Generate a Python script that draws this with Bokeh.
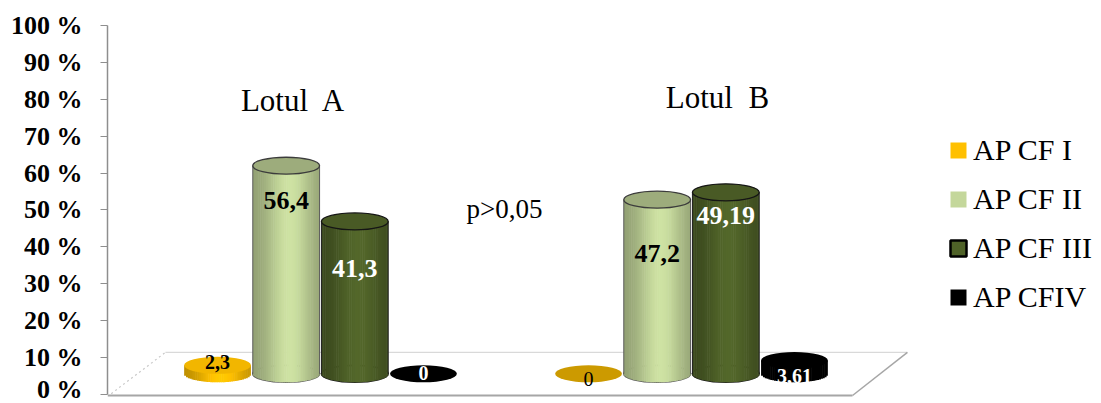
import math

from bokeh.core.properties import value
from bokeh.embed import file_html
from bokeh.models import (ColumnDataSource, FixedTicker, Label, Legend,
                          LegendItem, PrintfTickFormatter, Range1d)
from bokeh.plotting import figure
from bokeh.resources import INLINE

# ---- data -------------------------------------------------------------
groups = ["Lotul\u00a0 A", "Lotul\u00a0 B"]
series = ["AP CF I", "AP CF II", "AP CF III", "AP CFIV"]
lotul_a = [2.3, 56.4, 41.3, 0.0]
lotul_b = [0.0, 47.2, 49.19, 3.61]
y_ticks = [0, 10, 20, 30, 40, 50, 60, 70, 80, 90, 100]
note_text = "p>0,05"

values_by_group = [lotul_a, lotul_b]

# ---- styling / layout -------------------------------------------------
series_colors = ["#FFC000", "#C4D79B", "#4F6228", "#000000"]
top_factor = [0.95, 0.80, 0.92, 1.0]       # shade of the cylinder lids
lid_outline = [None, "#3c3c3c", "#151515", None]
body_outline = [None, "#5a5a5a", "#1e1e1e", None]
label_color = ["#000000", "#000000", "#ffffff", "#ffffff"]
draw_order = [3, 0, 1, 2]

FONT = "Liberation Serif"
BASE = 5.6          # depth lift of the cylinder bases above the floor front
LID_H = 4.6         # lid ellipse height (value units)
STEP = 0.185        # spacing of the cylinders inside a group (group units)
CYL_W = 0.18        # cylinder diameter (group units)
N_STRIPS = 36

offsets = [(i - 1.5) * STEP for i in range(len(series))]

# label centres in value units, per group / series
label_y = [[8.7, 52.6, 34.1, 5.7],
           [4.3, 38.2, 48.5, 5.1]]
title_dx = [-0.073, 0.070]
title_y = [79.7, 80.5]

# floor polygon (group units / value units)
floor_front_y, floor_back_y = -0.27, 11.4
floor_x_front = (-0.574, 1.434)
floor_x_back = (-0.418, 1.582)


def shade(hex_color, f):
    r, g, b = (int(hex_color[k:k + 2], 16) for k in (1, 3, 5))
    return "#%02x%02x%02x" % tuple(max(0, min(255, int(round(c * f)))) for c in (r, g, b))


def body_light(t):
    # horizontal lighting across the cylinder face, t in [0, 1]
    return 0.72 + 0.33 * math.exp(-((t - 0.55) / 0.35) ** 2)


p = figure(width=1101, height=403,
           x_range=Range1d(-0.5741, 2.1051), y_range=Range1d(-1.626, 104.065),
           output_backend="svg", toolbar_location=None, x_axis_location=None,
           min_border_left=107, min_border_right=0, min_border_top=10,
           min_border_bottom=3)
p.outline_line_color = None
p.grid.visible = False
p.background_fill_color = "white"

# ---- y axis ------------------------------------------------------------
ax = p.yaxis[0]
ax.ticker = FixedTicker(ticks=y_ticks)
ax.formatter = PrintfTickFormatter(format="%d %%")
ax.bounds = (0, 100)
ax.axis_line_color = "#8e8e8e"
ax.axis_line_width = 1.5
ax.major_tick_line_color = "#8e8e8e"
ax.major_tick_out = 7
ax.major_tick_in = 0
ax.minor_tick_line_color = None
ax.major_label_standoff = 18
ax.major_label_text_font = FONT
ax.major_label_text_font_style = "bold"
ax.major_label_text_font_size = "26px"
ax.major_label_text_color = "#000000"

# ---- floor -------------------------------------------------------------
p.patch(x=[floor_x_front[0], floor_x_front[1], floor_x_back[1], floor_x_back[0]],
        y=[floor_front_y, floor_front_y, floor_back_y, floor_back_y],
        fill_color="white", line_color=None)
p.segment(x0=[floor_x_back[0]], y0=[floor_back_y], x1=[floor_x_back[1]], y1=[floor_back_y],
          line_color="#d9d9d9", line_width=1.2)
p.segment(x0=[floor_x_front[0]], y0=[floor_front_y], x1=[floor_x_front[1]], y1=[floor_front_y],
          line_color="#a6a6a6", line_width=2)
p.segment(x0=[floor_x_front[1]], y0=[floor_front_y], x1=[floor_x_back[1]], y1=[floor_back_y],
          line_color="#a6a6a6", line_width=1.5)
p.segment(x0=[floor_x_front[0] + 0.01], y0=[floor_front_y + 0.5], x1=[floor_x_back[0]],
          y1=[floor_back_y], line_color="#c8c8c8", line_width=1.2, line_dash="2 3")

# ---- cylinders -----------------------------------------------------------
for s in draw_order:
    strips = dict(left=[], right=[], bottom=[], top=[], color=[])
    lids = dict(x=[], y=[], color=[])
    feet = dict(x=[], y=[])
    edges = dict(x0=[], x1=[], y0=[], y1=[])
    for g, vals in enumerate(values_by_group):
        v = vals[s]
        cx = g + offsets[s]
        x0 = cx - CYL_W / 2
        w = CYL_W / N_STRIPS
        if v > 0:
            feet["x"].append(cx)
            feet["y"].append(BASE)
            for xe in (x0, x0 + CYL_W):
                edges["x0"].append(xe)
                edges["x1"].append(xe)
                edges["y0"].append(BASE)
                edges["y1"].append(BASE + v)
            for k in range(N_STRIPS):
                t = (k + 0.5) / N_STRIPS
                u = 2 * t - 1
                strips["left"].append(x0 + k * w)
                strips["right"].append(x0 + (k + 1.3) * w if k < N_STRIPS - 1 else x0 + (k + 1) * w)
                strips["bottom"].append(BASE - LID_H / 2 * math.sqrt(max(0.0, 1 - u * u)))
                strips["top"].append(BASE + v)
                strips["color"].append(shade(series_colors[s], body_light(t)))
        lids["x"].append(cx)
        lids["y"].append(BASE + v)
        lids["color"].append(shade(series_colors[s], top_factor[s] if v > 0 else 0.8))
    if strips["left"]:
        if body_outline[s]:
            # rim of the cylinder foot; its upper half is hidden by the body
            p.ellipse(x="x", y="y", width=CYL_W, height=LID_H, fill_color=None,
                      line_color=body_outline[s], line_width=1.6,
                      source=ColumnDataSource(feet))
        p.quad(left="left", right="right", bottom="bottom", top="top",
               fill_color="color", line_color=None, source=ColumnDataSource(strips))
        if body_outline[s]:
            p.segment(x0="x0", y0="y0", x1="x1", y1="y1", line_color=body_outline[s],
                      line_width=1.0, source=ColumnDataSource(edges))
    p.ellipse(x="x", y="y", width=CYL_W, height=LID_H, fill_color="color",
              line_color=lid_outline[s], line_width=1.3, source=ColumnDataSource(lids))

# ---- value labels ----------------------------------------------------------
lab = dict(x=[], y=[], text=[], color=[], size=[], style=[])
for g, vals in enumerate(values_by_group):
    for s, v in enumerate(vals):
        lab["x"].append(g + offsets[s])
        lab["y"].append(label_y[g][s])
        lab["text"].append(f"{v:g}".replace(".", ","))
        lab["color"].append(label_color[s])
        lab["size"].append("26px" if v > 10 else "20px")
        lab["style"].append("normal" if (v == 0 and label_color[s] == "#000000") else "bold")
p.text(x="x", y="y", text="text", text_color="color", text_font_size="size",
       text_font_style="style", text_font=value(FONT), text_align="center",
       text_baseline="middle", source=ColumnDataSource(lab))

# ---- group titles and note -------------------------------------------------
for g, name in enumerate(groups):
    p.add_layout(Label(x=g + title_dx[g], y=title_y[g], text=name, text_font=FONT,
                       text_font_size="31px", text_align="center",
                       text_baseline="middle", text_color="#000000"))
p.add_layout(Label(x=0.496, y=50.4, text=note_text, text_font=FONT,
                   text_font_size="27px", text_align="center",
                   text_baseline="middle", text_color="#000000"))

# ---- legend ------------------------------------------------------------------
items = []
for s, name in enumerate(series):
    src = ColumnDataSource(dict(
        left=[g + offsets[s] - CYL_W / 2 for g in range(len(groups))],
        right=[g + offsets[s] + CYL_W / 2 for g in range(len(groups))],
        bottom=[BASE] * len(groups),
        top=[BASE + vals[s] for vals in values_by_group]))
    r = p.quad(left="left", right="right", bottom="bottom", top="top", source=src,
               fill_color=series_colors[s],
               line_color="#000000" if s == 2 else None, line_width=2.5)
    r.visible = False
    items.append(LegendItem(label=name, renderers=[r]))
legend = Legend(items=items, location=(841, 86), padding=0, margin=0, spacing=15,
                glyph_width=20, glyph_height=20, label_standoff=5,
                label_text_font=FONT, label_text_font_size="30px",
                label_text_color="#000000",
                border_line_color=None, background_fill_alpha=0)
p.add_layout(legend)

open("out.html", "w").write(file_html(p, INLINE))
